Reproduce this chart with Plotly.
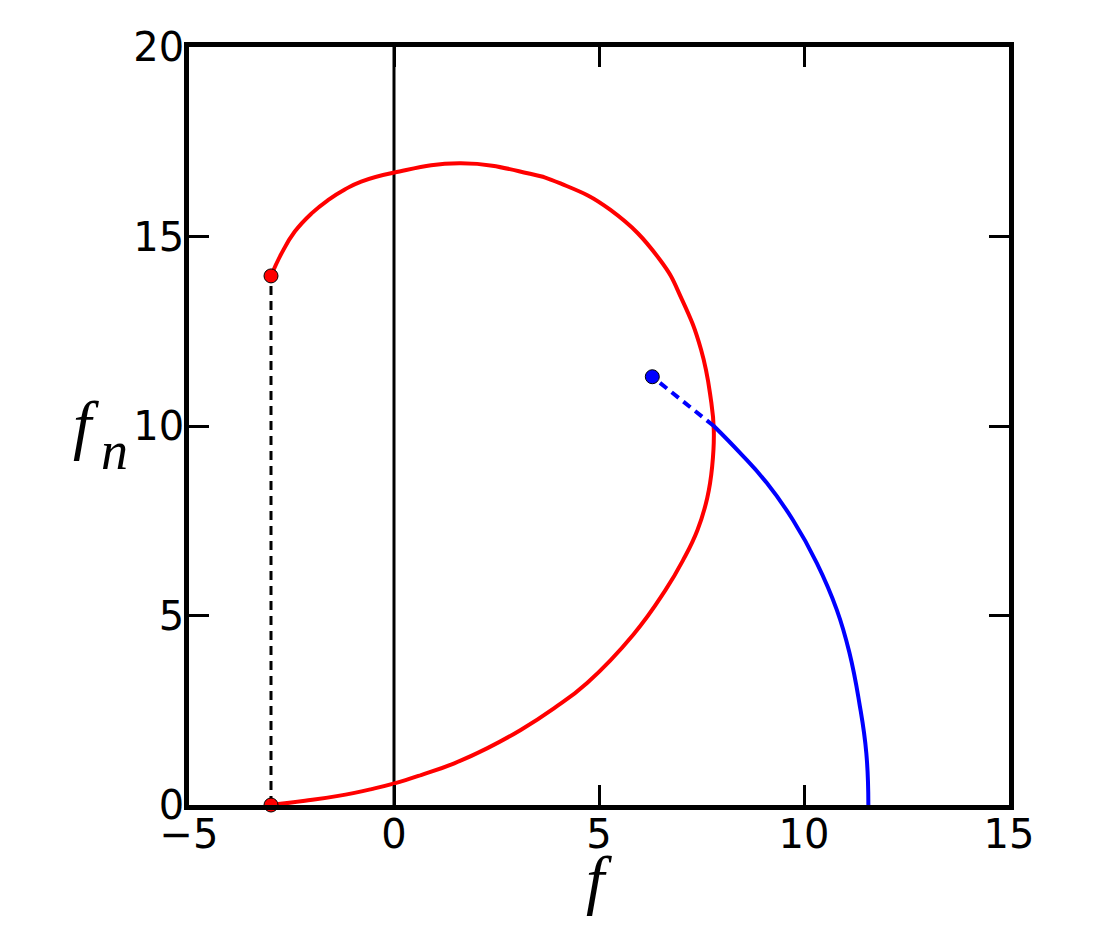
import plotly.graph_objects as go

# red trajectory (f, f_n)
red_x = [-3.0, -2.17, -1.36, -0.55, 0.01, 0.66, 1.47, 2.28, 3.09, 3.90, 4.71, 5.84, 6.62,
         7.05, 7.40, 7.64, 7.76, 7.80, 7.73, 7.49, 7.03, 6.49, 5.28, 4.06, 3.26, 1.63, 0.01,
         -0.80, -1.20, -1.61, -2.01, -2.42, -2.74, -3.0]
red_y = [0.0, 0.11, 0.24, 0.42, 0.57, 0.79, 1.10, 1.50, 1.98, 2.55, 3.22, 4.50, 5.67,
         6.46, 7.25, 8.10, 8.93, 9.89, 10.69, 12.01, 13.32, 14.38, 15.70, 16.40, 16.67, 16.93, 16.69,
         16.45, 16.24, 15.96, 15.61, 15.13, 14.56, 13.96]

# blue trajectory (solid part) and its dashed continuation
blue_x = [11.57, 11.52, 11.35, 11.11, 10.80, 10.31, 9.73, 9.09, 8.44, 7.80]
blue_y = [0.0, 1.37, 2.69, 4.01, 5.15, 6.39, 7.52, 8.50, 9.29, 10.0]
blue_dash_x = [7.80, 6.30]
blue_dash_y = [10.0, 11.3]

# endpoints
red_pts_x = [-3.0, -3.0]
red_pts_y = [0.0, 13.96]
blue_pt_x = [6.30]
blue_pt_y = [11.3]

# vertical reference line f = 0
zero_x = [0, 0]
zero_y = [0, 20]

x_ticks = [-5, 0, 5, 10, 15]
x_labels = ["\u22125", "0", "5", "10", "15"]
y_ticks = [0, 5, 10, 15, 20]

fig = go.Figure()

fig.add_trace(go.Scatter(x=zero_x, y=zero_y, mode="lines", line=dict(color="black", width=3)))
fig.add_trace(go.Scatter(x=red_pts_x, y=red_pts_y, mode="lines",
                         line=dict(color="black", width=3, dash="9px,6px")))
fig.add_trace(go.Scatter(x=red_x, y=red_y, mode="lines", line_shape="spline",
                         line=dict(color="#ff0000", width=4, smoothing=1.3)))
fig.add_trace(go.Scatter(x=blue_x, y=blue_y, mode="lines", line_shape="spline",
                         line=dict(color="#0000ff", width=4, smoothing=1.3)))
fig.add_trace(go.Scatter(x=blue_dash_x, y=blue_dash_y, mode="lines",
                         line=dict(color="#0000ff", width=4, dash="9px,6px")))
fig.add_trace(go.Scatter(x=red_pts_x, y=red_pts_y, mode="markers", cliponaxis=False,
                         marker=dict(color="#ff0000", size=14, line=dict(color="black", width=1))))
fig.add_trace(go.Scatter(x=blue_pt_x, y=blue_pt_y, mode="markers",
                         marker=dict(color="#0000ff", size=14, line=dict(color="black", width=1))))

axis_common = dict(
    showgrid=False, zeroline=False,
    showline=True, linecolor="black", linewidth=4.5, mirror="ticks",
    ticks="inside", ticklen=20, tickwidth=3, tickcolor="black",
    tickfont=dict(family="DejaVu Sans", size=40, color="black"),
)
fig.update_xaxes(range=[-5, 15], tickvals=x_ticks, ticktext=x_labels,
                 ticklabelstandoff=-10, **axis_common)
fig.update_yaxes(range=[0, 20], tickvals=y_ticks, ticklabelstandoff=-8, **axis_common)

label_font = dict(family="Liberation Serif", size=66, color="black")
fig.add_annotation(text="<i>f</i>", xref="paper", yref="paper", x=0.5, y=0,
                   xanchor="center", yanchor="top", yshift=-36, showarrow=False,
                   font=label_font)
fig.add_annotation(text="<i>f</i>", xref="paper", yref="y", x=0, y=10,
                   xanchor="center", yanchor="middle", xshift=-103, yshift=2, showarrow=False,
                   font=label_font)
fig.add_annotation(text="<i>n</i>", xref="paper", yref="y", x=0, y=10,
                   xanchor="center", yanchor="middle", xshift=-75, yshift=-25, showarrow=False,
                   font=dict(family="Liberation Serif", size=54, color="black"))

fig.update_layout(
    width=1100, height=950,
    margin=dict(l=181, r=99, t=39, b=153),
    paper_bgcolor="white", plot_bgcolor="white",
    showlegend=False,
)

fig.write_html("out.html")
